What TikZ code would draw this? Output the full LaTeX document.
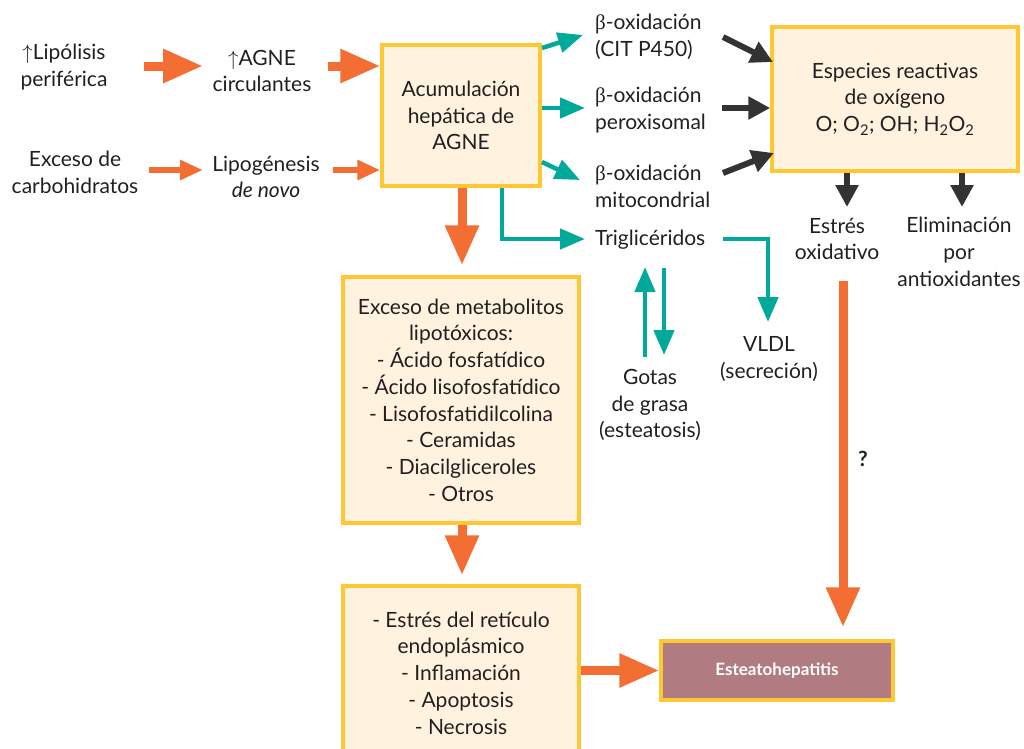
\documentclass[tikz,border=0pt]{standalone}
\usepackage{fontspec}
\setmainfont{Lato}
\newfontfamily\grk{Liberation Serif}
\usetikzlibrary{arrows.meta}
\definecolor{orng}{HTML}{F26E33}
\definecolor{tealc}{HTML}{00A99A}
\definecolor{cream}{HTML}{FFF2DF}
\definecolor{ylw}{HTML}{FFC832}
\definecolor{mauve}{HTML}{B07C81}
\definecolor{txtc}{HTML}{231F20}
\definecolor{blkc}{HTML}{333333}
\newcommand\fsz{\fontsize{21}{26.7}\selectfont}
\newcommand\bet{{\grk β}}
\begin{document}
\begin{tikzpicture}[x=1pt,y=-1pt,
  txt/.style={align=center,font=\fsz,inner sep=0pt,text=txtc},
  ltxt/.style={align=left,font=\fsz,inner sep=0pt,text=txtc},
  box/.style={draw=ylw,line width=3.5pt,fill=cream,align=center,font=\fsz,inner sep=0pt,text=txtc},
  obig/.style={draw=orng,line width=9pt,-{Triangle[width=32pt,length=40pt]}},
  osmall/.style={draw=orng,line width=6pt,-{Triangle[width=19pt,length=23pt]}},
  tarr/.style={draw=tealc,line width=4.5pt,-{Triangle[width=20pt,length=25pt]}},
  karr/.style={draw=blkc,line width=6pt,-{Triangle[width=22pt,length=22pt]}}]
\useasboundingbox (0,0) rectangle (1024,748);
\clip (0,0) rectangle (1024,748);
% left texts
\node[txt] (lip) at (64,67) {$\uparrow$Lipólisis\\periférica};
\node[txt] (agc) at (262,71) {$\uparrow$AGNE\\circulantes};
\node[txt] (exc) at (75,172) {Exceso de\\carbohidratos};
\node[txt] (lipo) at (266,177) {Lipogénesis\\\textit{de novo}};
% boxes
\node[box,minimum width=158pt,minimum height=141pt] (acu) at (461,115.5) {Acumulación\\hepática de\\AGNE};
\node[box,minimum width=246pt,minimum height=144pt] (ero) at (895,99) {Especies reactivas\\de oxígeno\\O; O\textsubscript{2}; OH; H\textsubscript{2}O\textsubscript{2}};
\node[box,minimum width=236pt,minimum height=246pt] (met) at (461,400) {Exceso de metabolitos\\lipotóxicos:\\- Ácido fosfatídico\\- Ácido lisofosfatídico\\- Lisofosfatidilcolina\\- Ceramidas\\- Diacilgliceroles\\- Otros};
\node[box,minimum width=236pt,minimum height=174pt] (bot) at (461,673) {- Estrés del retículo\\endoplásmico\\- Inflamación\\- Apoptosis\\- Necrosis};
\node[draw=ylw,line width=3.5pt,fill=mauve,minimum width=232pt,minimum height=59pt,text=white,font=\fontsize{17}{20}\selectfont\bfseries] (est) at (777,670.5) {Esteatohepatitis};
% beta texts
\node[ltxt,anchor=west] (b1) at (595,37) {\bet-oxidación\\(CIT P450)};
\node[ltxt,anchor=west] (b2) at (595,110) {\bet-oxidación\\peroxisomal};
\node[ltxt,anchor=west] (b3) at (595,186) {\bet-oxidación\\mitocondrial};
\node[ltxt,anchor=base west] (tri) at (595,245) {Triglicéridos};
\node[txt] (eox) at (837,239) {Estrés\\oxidativo};
\node[txt] (eli) at (959,252) {Eliminación\\por\\antioxidantes};
\node[txt] (vldl) at (769,359) {VLDL\\(secreción)};
\node[txt] (got) at (650,405) {Gotas\\de grasa\\(esteatosis)};
\node[font=\fontsize{21}{22}\selectfont\bfseries,text=txtc,inner sep=0pt] (q) at (863,459) {?};
% coordinates
\coordinate (o1s) at (144,66); \coordinate (o1e) at (203,66);
\coordinate (o2s) at (328,66);
\coordinate (o3s) at (149,170); \coordinate (o3e) at (203,170);
\coordinate (o4s) at (333,170);
\coordinate (t1s) at (542,48); \coordinate (t1e) at (583,35);
\coordinate (t2e) at (585,108);
\coordinate (t3s) at (542,162); \coordinate (t3e) at (580,180);
\coordinate (t4c) at (502,239); \coordinate (t4e) at (585,239);
\coordinate (t5s) at (723,239); \coordinate (t5c) at (768,239); \coordinate (t5e) at (768,322);
\coordinate (gu1) at (645,357); \coordinate (gu2) at (645,267);
\coordinate (gd1) at (664,268); \coordinate (gd2) at (664,355);
\coordinate (k1s) at (723,37); \coordinate (k1e) at (773,62);
\coordinate (k2s) at (722,108);
\coordinate (k3s) at (723,173); \coordinate (k3e) at (774,153);
\coordinate (k4e) at (847,207); \coordinate (k5e) at (962,207);
\coordinate (qs) at (843,281);
% orange arrows
\draw[obig] (o1s) -- (o1e);
\draw[obig] (o2s) -- (acu.west |- o2s);
\draw[osmall] (o3s) -- (o3e);
\draw[osmall] (o4s) -- (acu.west |- o4s);
\draw[obig] (acu.south -| 462,0) -- ([yshift=10pt]met.north -| 462,0);
\draw[obig] (met.south -| 462,0) -- ([yshift=9pt]bot.north -| 462,0);
\draw[obig] (qs) -- ([yshift=12pt]est.north -| qs);
\draw[obig] (bot.east |- est) -- (est.west);
% teal arrows
\draw[tarr] (t1s) -- (t1e);
\draw[tarr] (acu.east |- t2e) -- (t2e);
\draw[tarr] (t3s) -- (t3e);
\draw[tarr] (acu.south -| t4c) -- (t4c) -- (t4e);
\draw[tarr] (t5s) -- (t5c) -- (t5e);
\draw[tarr] (gu1) -- (gu2);
\draw[tarr] (gd1) -- (gd2);
% black arrows
\draw[karr] (k1s) -- (k1e);
\draw[karr] (k2s) -- (ero.west |- k2s);
\draw[karr] (k3s) -- (k3e);
\draw[karr] (ero.south -| k4e) -- (k4e);
\draw[karr] (ero.south -| k5e) -- (k5e);
\end{tikzpicture}
\end{document}
